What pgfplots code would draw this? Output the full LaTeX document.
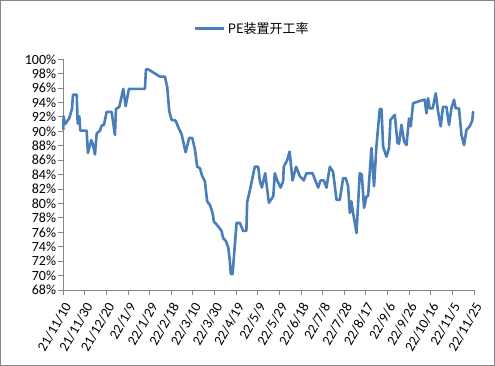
\documentclass[border=0pt]{standalone}
\usepackage{pgfplots}
\pgfplotsset{compat=1.18}
\usepackage{fontspec}
\setmainfont{Carlito}
\newfontfamily\cjk{Noto Sans CJK SC}
\definecolor{serblue}{RGB}{74,126,187}
\definecolor{axgray}{RGB}{134,134,134}
\begin{document}
\begin{tikzpicture}
\begin{axis}[
  scale only axis,
  width=410.7bp, height=230.7bp,
  xmin=0, xmax=380, ymin=68, ymax=100,
  axis x line=bottom, axis y line=left,
  axis line style={-, axgray, line width=1bp},
  tick style={axgray, line width=1bp},
  tick align=outside,
  major tick length=5bp,
  xtick={0,20,...,380},
  xticklabels={21/11/10,21/11/30,21/12/20,22/1/9,22/1/29,22/2/18,22/3/10,22/3/30,22/4/19,22/5/9,22/5/29,22/6/18,22/7/8,22/7/28,22/8/17,22/9/6,22/9/26,22/10/16,22/11/5,22/11/25},
  xticklabel style={xshift=5bp, yshift=-8bp, rotate=60, anchor=east, font=\fontsize{14bp}{16bp}\selectfont, inner sep=1bp},
  ytick={68,70,...,100},
  yticklabel={\pgfmathprintnumber[assume math mode=true]{\tick}\%},
  yticklabel style={font=\fontsize{14bp}{16bp}\selectfont, inner sep=2bp},
  legend style={draw=none, fill=none, at={(axis description cs:0.3182,1.1335)}, anchor=west, inner sep=0pt, font=\cjk\fontsize{13bp}{15bp}\selectfont},
  legend image code/.code={\draw[#1] (0bp,0bp) -- (29bp,0bp);},
  clip=false,
]
\addplot[serblue, line width=2.6bp, line join=round] coordinates {
(0,90.2)(0.3,92.1)(1.6,91.0)(5.5,91.8)(6.8,92.5)(8.0,93.1)(9.0,95.1)(12.4,95.1)(13.3,91.1)(14.8,92.1)(15.7,90.1)(21.6,90.1)(22.8,87.0)(25.9,88.8)(27.2,88.3)(29.3,86.8)(30.9,89.7)(33.9,90.1)(35.5,90.8)(37.6,90.9)(40.1,92.7)(44.7,92.7)(47.8,89.5)(48.7,93.1)(51.8,93.4)(55.5,95.9)(57.7,93.5)(60.7,95.9)(75.5,95.9)(76.5,98.6)(78.6,98.6)(89.4,97.6)(94.0,97.6)(96.2,96.1)(98.0,92.8)(100.2,91.6)(103.9,91.5)(106.3,90.6)(109.5,89.6)(113.2,87.1)(116.5,89.1)(119.3,89.1)(121.8,87.5)(123.9,85.1)(126.4,84.9)(128.5,83.8)(131.0,83.1)(133.1,80.3)(135.6,79.8)(138.1,78.7)(139.3,77.5)(141.8,77.1)(146.4,76.2)(147.9,75.2)(150.4,74.8)(152.6,73.9)(154.1,72.0)(155.0,70.2)(156.6,70.2)(160.3,77.3)(163.4,77.3)(166.4,76.2)(169.4,76.2)(170.1,80.2)(172.6,81.8)(177.2,85.1)(180.3,85.1)(181.9,83.1)(183.7,82.2)(186.8,84.2)(190.2,80.1)(194.3,81.0)(195.7,84.2)(198.2,83.1)(201.1,82.2)(203.4,83.1)(204.0,85.1)(207.1,86.0)(209.4,87.2)(212.1,83.2)(215.4,85.1)(218.8,83.8)(222.5,83.2)(224.9,84.2)(230.6,84.2)(233.2,83.2)(235.8,82.2)(238.0,83.2)(241.0,83.2)(243.5,82.2)(246.6,85.1)(249.6,84.4)(252.8,80.5)(255.8,80.5)(258.9,83.5)(261.4,83.5)(263.5,82.4)(265.1,78.7)(266.6,80.3)(268.1,78.7)(271.3,75.9)(274.3,84.2)(276.2,84.0)(278.3,79.4)(280.5,81.0)(282.0,81.0)(285.1,87.7)(287.5,82.4)(289.7,87.9)(292.8,93.1)(294.4,93.1)(295.9,87.9)(299.0,86.5)(301.4,87.7)(302.7,91.6)(306.7,92.3)(309.2,88.4)(310.6,88.3)(312.9,90.9)(315.3,88.6)(317.5,88.1)(319.9,91.8)(321.5,90.7)(323.6,93.9)(331.4,94.3)(334.4,94.4)(336.0,92.5)(337.5,94.6)(339.0,93.2)(341.8,93.2)(344.6,95.3)(346.7,92.8)(349.2,90.7)(351.3,93.4)(354.5,93.4)(356.9,90.9)(359.1,93.2)(361.5,94.4)(363.1,93.2)(366.1,93.2)(368.4,89.5)(370.8,88.1)(373.0,90.2)(376.0,90.7)(378.4,91.5)(379.2,92.8)
};
\addlegendentry{PE装置开工率}
\end{axis}
\draw[axgray, line width=1bp] (-62.8bp,-75.5bp) rectangle (431.2bp,289.5bp);
\end{tikzpicture}
\end{document}
